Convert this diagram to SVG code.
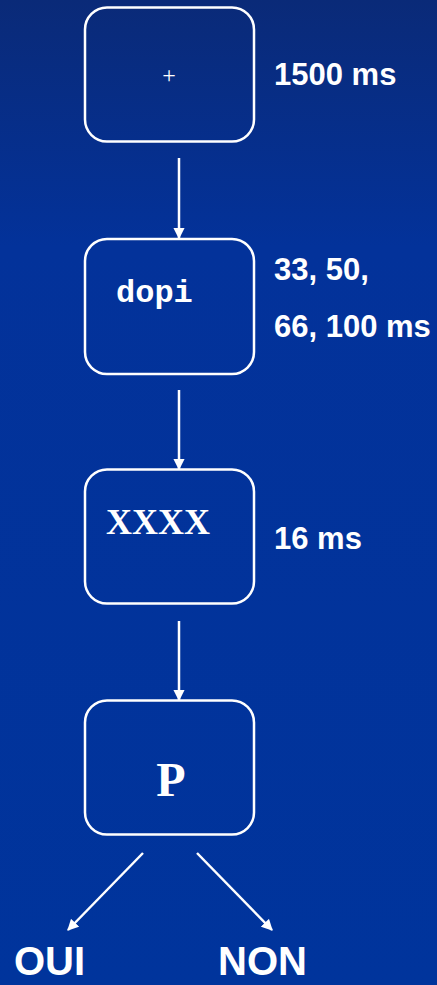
<svg xmlns="http://www.w3.org/2000/svg" width="437" height="985" viewBox="0 0 437 985">
  <defs>
    <linearGradient id="bg" x1="0" y1="0" x2="0" y2="1">
      <stop offset="0" stop-color="#0a2a78"/>
      <stop offset="0.25" stop-color="#03329a"/>
      <stop offset="1" stop-color="#00349c"/>
    </linearGradient>
    <marker id="head" viewBox="0 0 10 10" refX="9" refY="5" markerWidth="4.5" markerHeight="4.5" orient="auto" markerUnits="strokeWidth">
      <path d="M0,0 L10,5 L0,10 z" fill="#ffffff"/>
    </marker>
    <style>
      .box { fill: none; stroke: #ffffff; stroke-width: 2.5; }
      .link { stroke: #ffffff; stroke-width: 2.5; fill: none; marker-end: url(#head); }
      .lab { font-family: "Liberation Sans", Arial, sans-serif; font-weight: bold; font-size: 31px; fill: #ffffff; }
      .big { font-size: 40px; }
    </style>
  </defs>

  <rect width="437" height="985" fill="url(#bg)"/>

  <g id="fixation">
    <rect class="box" x="85" y="7.5" width="169" height="134" rx="22"/>
    <text x="169" y="83" font-family="Liberation Serif, serif" font-size="24" fill="#ffffff" text-anchor="middle">+</text>
    <text class="lab" x="274" y="85">1500 ms</text>
  </g>

  <g id="prime">
    <rect class="box" x="85" y="239" width="169" height="135" rx="22"/>
    <text x="116" y="302" font-family="Liberation Mono, monospace" font-weight="bold" font-size="32" fill="#ffffff">dopi</text>
    <text class="lab" x="274" y="280">33, 50,</text>
    <text class="lab" x="274" y="337">66, 100 ms</text>
  </g>

  <g id="mask">
    <rect class="box" x="85" y="469.5" width="169" height="134" rx="22"/>
    <text x="106" y="534" font-family="Liberation Serif, serif" font-weight="bold" font-size="36" fill="#ffffff">XXXX</text>
    <text class="lab" x="274" y="549">16 ms</text>
  </g>

  <g id="probe">
    <rect class="box" x="85" y="700.5" width="169" height="134" rx="22"/>
    <text x="171" y="796" font-family="Liberation Serif, serif" font-weight="bold" font-size="48" fill="#ffffff" text-anchor="middle">P</text>
  </g>

  <g id="answer-yes">
    <text class="lab big" x="14" y="975">OUI</text>
  </g>
  <g id="answer-no">
    <text class="lab big" x="218" y="975">NON</text>
  </g>

  <g id="connectors">
    <line class="link" x1="179" y1="158" x2="179" y2="238"/>
    <line class="link" x1="179" y1="390" x2="179" y2="469"/>
    <line class="link" x1="179" y1="621" x2="179" y2="700"/>
    <line class="link" x1="143" y1="853" x2="68" y2="930"/>
    <line class="link" x1="197" y1="853" x2="272" y2="930"/>
  </g>
</svg>
